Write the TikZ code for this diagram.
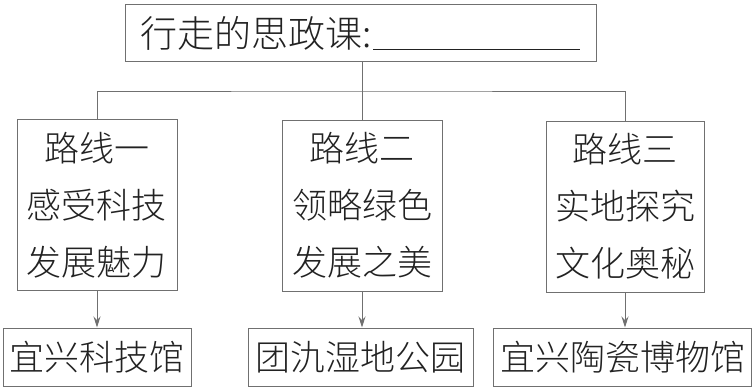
\documentclass[tikz,border=0pt]{standalone}
\usepackage{fontspec}
\newfontfamily\cjk{Noto Sans CJK SC}[UprightFont={* Light}]
\usetikzlibrary{arrows.meta}
\definecolor{linegray}{HTML}{707070}
\definecolor{textgray}{HTML}{222222}
\begin{document}
\begin{tikzpicture}[x=1pt,y=-1pt,
  boxstyle/.style={draw=linegray, line width=1pt, inner sep=0pt, text=textgray, align=center},
  routebox/.style={boxstyle, minimum width=160pt, minimum height=171pt, font=\cjk\fontsize{35}{57}\selectfont},
  sitebox/.style={boxstyle, minimum height=58pt, font=\cjk\fontsize{35}{40}\selectfont},
  conn/.style={draw=linegray, line width=1pt},
  arr/.style={conn, -{Stealth[length=11pt,width=7pt]}}]
\useasboundingbox (0,0) rectangle (753,389);
\node[boxstyle, minimum width=471pt, minimum height=57pt] (top) at (360.5,32.5) {};
\node[anchor=west, font=\cjk\fontsize{37}{40}\selectfont, text=textgray, inner sep=0pt] (title) at (140,33) {行走的思政课:};
\coordinate (ulA) at (373,49);
\coordinate (ulB) at (580,49);
\draw[draw=textgray, line width=1pt] (ulA) -- (ulB);

\node[routebox] (r1) at (97,205) {路线一\\感受科技\\发展魅力};
\node[routebox] (r2) at (362,205.5) {路线二\\领略绿色\\发展之美};
\node[routebox, minimum width=158pt] (r3) at (625,206.5) {路线三\\实地探究\\文化奥秘};

\node[sitebox, minimum width=188pt] (s1) at (97,357) {宜兴科技馆};
\node[sitebox, minimum width=225pt] (s2) at (360.5,357) {团氿湿地公园};
\node[sitebox, minimum width=258pt] (s3) at (622.5,357) {宜兴陶瓷博物馆};

\coordinate (j) at (362,91);
\draw[conn] (top.south -| r2.north) -- (r2.north);
\draw[conn] (r1.north) |- (j) -| (r3.north);

\draw[arr] (r1.south) -- (r1.south |- s1.north);
\draw[arr] (r2.south) -- (r2.south |- s2.north);
\draw[arr] (r3.south) -- (r3.south |- s3.north);
\end{tikzpicture}
\end{document}
